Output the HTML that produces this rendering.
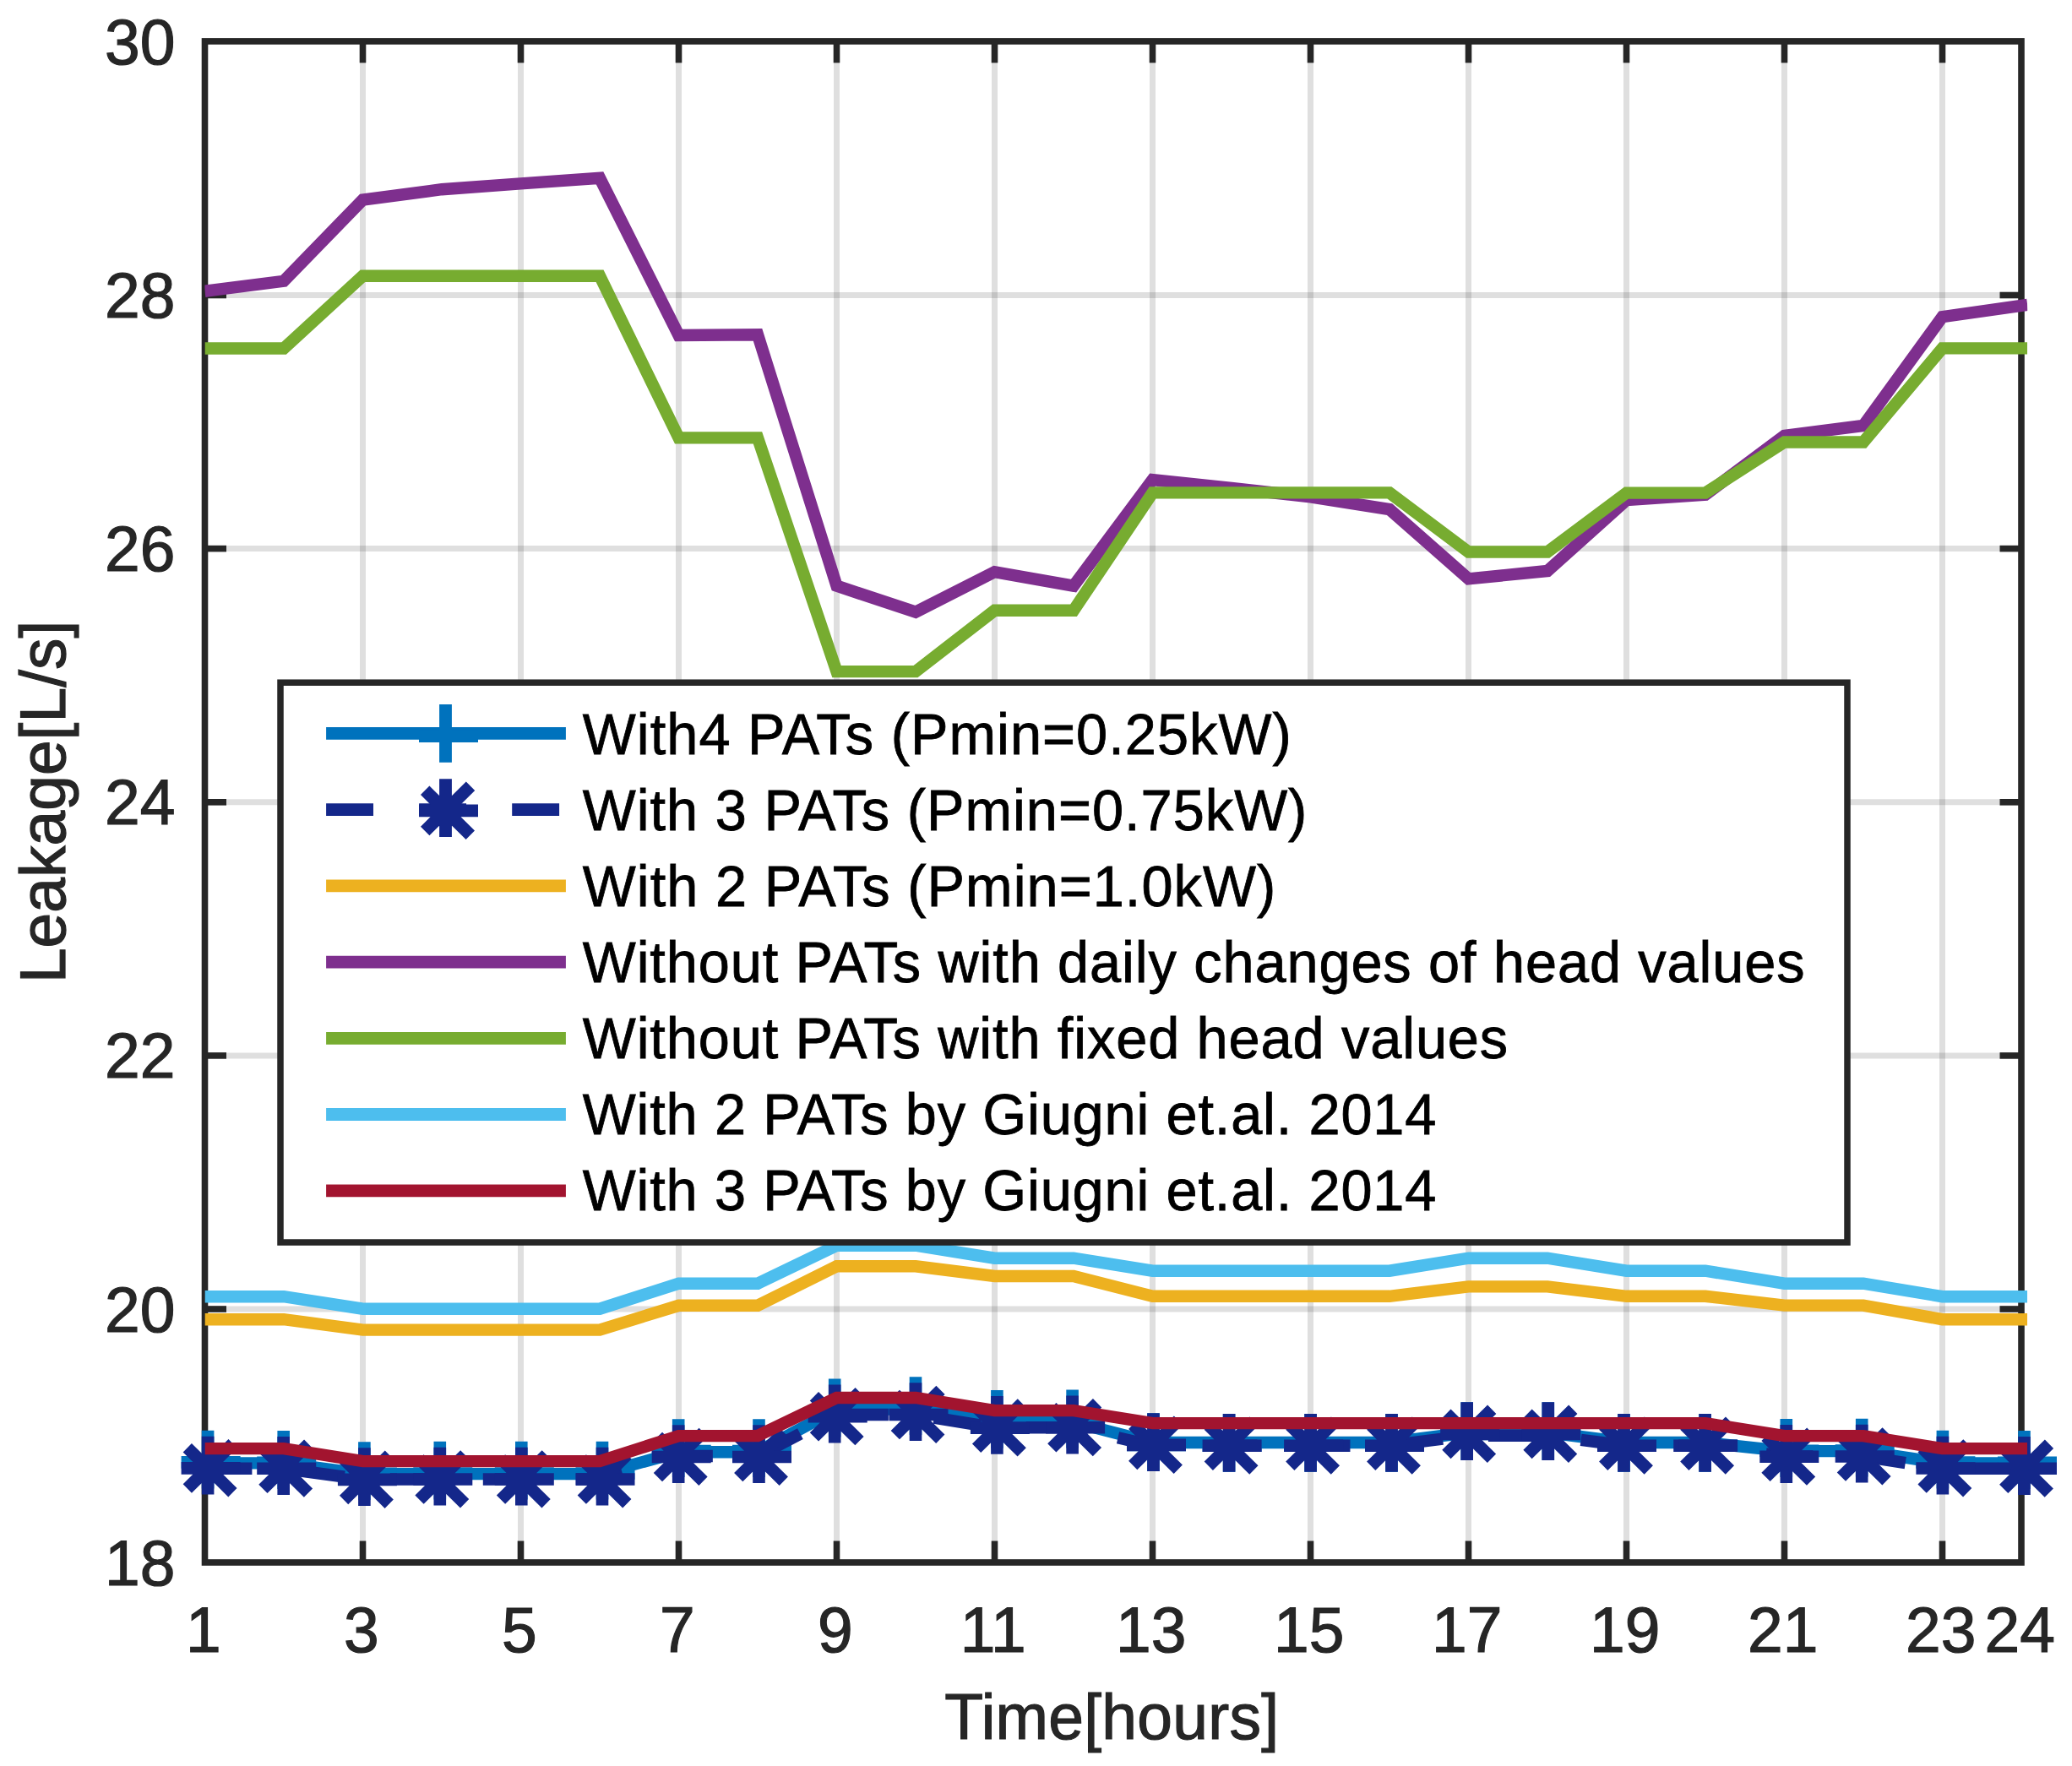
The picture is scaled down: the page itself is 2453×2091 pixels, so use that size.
<!DOCTYPE html>
<html lang="en"><head><meta charset="utf-8"><title>Leakage vs Time</title>
<style>html,body{margin:0;padding:0;background:#fff}body{width:2453px;height:2091px;overflow:hidden}svg{display:block}text{font-family:"Liberation Sans",sans-serif}</style>
</head><body>
<svg width="2453" height="2091" viewBox="0 0 2453 2091">
<rect width="2453" height="2091" fill="#fff"/>
<defs>
<clipPath id="cp"><rect x="242.4" y="0" width="2157.8" height="2091"/></clipPath>
</defs>
<g stroke="#262626" stroke-opacity="0.15" stroke-width="7.0" fill="none">
<path d="M429.5 48.9V1850.0"/>
<path d="M616.5 48.9V1850.0"/>
<path d="M803.5 48.9V1850.0"/>
<path d="M990.5 48.9V1850.0"/>
<path d="M1177.5 48.9V1850.0"/>
<path d="M1364.5 48.9V1850.0"/>
<path d="M1551.5 48.9V1850.0"/>
<path d="M1738.5 48.9V1850.0"/>
<path d="M1925.5 48.9V1850.0"/>
<path d="M2112.5 48.9V1850.0"/>
<path d="M2299.5 48.9V1850.0"/>
<path d="M242.5 1550.0H2393.0"/>
<path d="M242.5 1249.9H2393.0"/>
<path d="M242.5 949.8H2393.0"/>
<path d="M242.5 649.6H2393.0"/>
<path d="M242.5 349.5H2393.0"/>
</g>
<g stroke="#262626" stroke-width="7.6" fill="none" stroke-linecap="butt">
<rect x="242.5" y="48.9" width="2150.5" height="1801.1"/>
<path d="M429.5 1850.0v-25.5"/>
<path d="M429.5 48.9v25.5"/>
<path d="M616.5 1850.0v-25.5"/>
<path d="M616.5 48.9v25.5"/>
<path d="M803.5 1850.0v-25.5"/>
<path d="M803.5 48.9v25.5"/>
<path d="M990.5 1850.0v-25.5"/>
<path d="M990.5 48.9v25.5"/>
<path d="M1177.5 1850.0v-25.5"/>
<path d="M1177.5 48.9v25.5"/>
<path d="M1364.5 1850.0v-25.5"/>
<path d="M1364.5 48.9v25.5"/>
<path d="M1551.5 1850.0v-25.5"/>
<path d="M1551.5 48.9v25.5"/>
<path d="M1738.5 1850.0v-25.5"/>
<path d="M1738.5 48.9v25.5"/>
<path d="M1925.5 1850.0v-25.5"/>
<path d="M1925.5 48.9v25.5"/>
<path d="M2112.5 1850.0v-25.5"/>
<path d="M2112.5 48.9v25.5"/>
<path d="M2299.5 1850.0v-25.5"/>
<path d="M2299.5 48.9v25.5"/>
<path d="M242.5 1550.0h25.5"/>
<path d="M2393.0 1550.0h-25.5"/>
<path d="M242.5 1249.9h25.5"/>
<path d="M2393.0 1249.9h-25.5"/>
<path d="M242.5 949.8h25.5"/>
<path d="M2393.0 949.8h-25.5"/>
<path d="M242.5 649.6h25.5"/>
<path d="M2393.0 649.6h-25.5"/>
<path d="M242.5 349.5h25.5"/>
<path d="M2393.0 349.5h-25.5"/>
</g>
<g fill="#262626" stroke="#262626" stroke-width="1.2" font-size="75px">
<text transform="translate(240.8 1955.6) scale(1 1.015)" text-anchor="middle">1</text>
<text transform="translate(427.8 1955.6) scale(1 1.015)" text-anchor="middle">3</text>
<text transform="translate(614.8 1955.6) scale(1 1.015)" text-anchor="middle">5</text>
<text transform="translate(801.8 1955.6) scale(1 1.015)" text-anchor="middle">7</text>
<text transform="translate(988.8 1955.6) scale(1 1.015)" text-anchor="middle">9</text>
<text transform="translate(1175.8 1955.6) scale(1 1.015)" text-anchor="middle">11</text>
<text transform="translate(1362.8 1955.6) scale(1 1.015)" text-anchor="middle">13</text>
<text transform="translate(1549.8 1955.6) scale(1 1.015)" text-anchor="middle">15</text>
<text transform="translate(1736.8 1955.6) scale(1 1.015)" text-anchor="middle">17</text>
<text transform="translate(1923.8 1955.6) scale(1 1.015)" text-anchor="middle">19</text>
<text transform="translate(2110.8 1955.6) scale(1 1.015)" text-anchor="middle">21</text>
<text transform="translate(2297.8 1955.6) scale(1 1.015)" text-anchor="middle">23</text>
<text transform="translate(2391.3 1955.6) scale(1 1.015)" text-anchor="middle">24</text>
<text transform="translate(207.5 1876.6) scale(1 1.015)" text-anchor="end">18</text>
<text transform="translate(207.5 1576.5) scale(1 1.015)" text-anchor="end">20</text>
<text transform="translate(207.5 1276.4) scale(1 1.015)" text-anchor="end">22</text>
<text transform="translate(207.5 976.2) scale(1 1.015)" text-anchor="end">24</text>
<text transform="translate(207.5 676.1) scale(1 1.015)" text-anchor="end">26</text>
<text transform="translate(207.5 376.0) scale(1 1.015)" text-anchor="end">28</text>
<text transform="translate(207.5 75.9) scale(1 1.015)" text-anchor="end">30</text>
<text transform="translate(1316.2 2058.7) scale(1 1.015)" text-anchor="middle" textLength="395.7" lengthAdjust="spacing">Time[hours]</text>
<text transform="translate(76.5 949.4) rotate(-90) scale(1 1.015)" text-anchor="middle">Leakage[L/s]</text>
</g>
<g fill="none" stroke-width="14.4" stroke-linejoin="miter" stroke-linecap="butt">
<g clip-path="url(#cp)"><path d="M242.5 1732.4 L336.0 1732.4 L429.5 1745.1 L523.0 1745.1 L616.5 1745.1 L710.0 1745.1 L803.5 1719.2 L897.0 1719.2 L990.5 1668.6 L1084.0 1668.6 L1177.5 1683.9 L1271.0 1683.9 L1364.5 1708.0 L1458.0 1708.0 L1551.5 1708.0 L1645.0 1708.0 L1738.5 1696.0 L1832.0 1696.0 L1925.5 1708.0 L2019.0 1708.0 L2112.5 1718.1 L2206.0 1718.1 L2299.5 1732.4 L2393.0 1732.4 L2400.2 1732.4" stroke="#0072BD"/></g>
<g id="plus-markers">
<path d="M246.1 1693.7V1762.5M214.6 1731.4H284.6" stroke="#0072BD" stroke-width="14.6" stroke-dasharray="none"/>
<path d="M335.7 1694.1V1762.9M304.2 1731.8H374.2" stroke="#0072BD" stroke-width="14.6" stroke-dasharray="none"/>
<path d="M431.4 1707.2V1776.0M399.9 1744.9H469.9" stroke="#0072BD" stroke-width="14.6" stroke-dasharray="none"/>
<path d="M520.8 1706.8V1775.6M489.3 1744.5H559.3" stroke="#0072BD" stroke-width="14.6" stroke-dasharray="none"/>
<path d="M617.3 1706.8V1775.6M585.8 1744.5H655.8" stroke="#0072BD" stroke-width="14.6" stroke-dasharray="none"/>
<path d="M713.0 1706.8V1775.6M681.5 1744.5H751.5" stroke="#0072BD" stroke-width="14.6" stroke-dasharray="none"/>
<path d="M803.2 1680.3V1749.1M771.7 1718.0H841.7" stroke="#0072BD" stroke-width="14.6" stroke-dasharray="none"/>
<path d="M898.5 1680.3V1749.1M867.0 1718.0H937.0" stroke="#0072BD" stroke-width="14.6" stroke-dasharray="none"/>
<path d="M988.2 1632.6V1701.4M956.7 1670.3H1026.7" stroke="#0072BD" stroke-width="14.6" stroke-dasharray="none"/>
<path d="M1084.0 1630.3V1699.1M1052.5 1668.0H1122.5" stroke="#0072BD" stroke-width="14.6" stroke-dasharray="none"/>
<path d="M1180.4 1645.9V1714.7M1148.9 1683.6H1218.9" stroke="#0072BD" stroke-width="14.6" stroke-dasharray="none"/>
<path d="M1269.6 1645.6V1714.4M1238.1 1683.3H1308.1" stroke="#0072BD" stroke-width="14.6" stroke-dasharray="none"/>
<path d="M1365.5 1673.2V1742.0M1334.0 1710.9H1404.0" stroke="#0072BD" stroke-width="14.6" stroke-dasharray="none"/>
<path d="M1455.1 1674.0V1742.8M1423.6 1711.7H1493.6" stroke="#0072BD" stroke-width="14.6" stroke-dasharray="none"/>
<path d="M1551.6 1674.0V1742.8M1520.1 1711.7H1590.1" stroke="#0072BD" stroke-width="14.6" stroke-dasharray="none"/>
<path d="M1647.5 1674.0V1742.8M1616.0 1711.7H1686.0" stroke="#0072BD" stroke-width="14.6" stroke-dasharray="none"/>
<path d="M1736.7 1660.2V1729.0M1705.2 1697.9H1775.2" stroke="#0072BD" stroke-width="14.6" stroke-dasharray="none"/>
<path d="M1832.8 1660.2V1729.0M1801.3 1697.9H1871.3" stroke="#0072BD" stroke-width="14.6" stroke-dasharray="none"/>
<path d="M1922.5 1674.0V1742.8M1891.0 1711.7H1961.0" stroke="#0072BD" stroke-width="14.6" stroke-dasharray="none"/>
<path d="M2018.6 1674.0V1742.8M1987.1 1711.7H2057.1" stroke="#0072BD" stroke-width="14.6" stroke-dasharray="none"/>
<path d="M2114.8 1680.1V1748.9M2083.3 1717.8H2153.3" stroke="#0072BD" stroke-width="14.6" stroke-dasharray="none"/>
<path d="M2204.2 1679.8V1748.6M2172.7 1717.5H2242.7" stroke="#0072BD" stroke-width="14.6" stroke-dasharray="none"/>
<path d="M2299.9 1693.8V1762.6M2268.4 1731.5H2338.4" stroke="#0072BD" stroke-width="14.6" stroke-dasharray="none"/>
<path d="M2396.5 1694.1V1762.9M2365.0 1731.8H2435.0" stroke="#0072BD" stroke-width="14.6" stroke-dasharray="none"/>
</g>
<g clip-path="url(#cp)"><path d="M242.5 1738.8 L336.0 1738.8 L429.5 1751.5 L523.0 1751.5 L616.5 1751.5 L710.0 1751.5 L803.5 1724.0 L897.0 1724.0 L990.5 1675.0 L1084.0 1675.0 L1177.5 1690.3 L1271.0 1690.3 L1364.5 1711.7 L1458.0 1711.7 L1551.5 1711.7 L1645.0 1711.7 L1738.5 1699.7 L1832.0 1699.7 L1925.5 1711.7 L2019.0 1711.7 L2112.5 1724.5 L2206.0 1724.5 L2299.5 1738.8 L2393.0 1738.8 L2400.2 1738.8" stroke="#14278A" stroke-dasharray="55.9 54.15"/></g>
<g id="star-markers">
<path d="M246.1 1700.7V1769.5M214.6 1738.4H284.6M221.8 1762.5L275.6 1709.2M221.8 1714.2L275.4 1767.2" stroke="#14278A" stroke-width="14.6" stroke-dasharray="none"/>
<path d="M335.7 1701.1V1769.9M304.2 1738.8H374.2M311.4 1762.9L365.2 1709.7M311.4 1714.7L365.0 1767.6" stroke="#14278A" stroke-width="14.6" stroke-dasharray="none"/>
<path d="M431.4 1714.2V1783.0M399.9 1751.9H469.9M407.1 1776.0L460.9 1722.8M407.1 1727.8L460.7 1780.7" stroke="#14278A" stroke-width="14.6" stroke-dasharray="none"/>
<path d="M520.8 1713.8V1782.6M489.3 1751.5H559.3M496.5 1775.6L550.3 1722.4M496.5 1727.4L550.1 1780.3" stroke="#14278A" stroke-width="14.6" stroke-dasharray="none"/>
<path d="M617.3 1713.8V1782.6M585.8 1751.5H655.8M593.0 1775.6L646.8 1722.4M593.0 1727.4L646.6 1780.3" stroke="#14278A" stroke-width="14.6" stroke-dasharray="none"/>
<path d="M713.0 1713.8V1782.6M681.5 1751.5H751.5M688.8 1775.6L742.5 1722.4M688.8 1727.4L742.3 1780.3" stroke="#14278A" stroke-width="14.6" stroke-dasharray="none"/>
<path d="M803.2 1687.3V1756.1M771.7 1725.0H841.7M778.9 1749.1L832.7 1695.9M778.9 1700.9L832.5 1753.8" stroke="#14278A" stroke-width="14.6" stroke-dasharray="none"/>
<path d="M898.5 1687.3V1756.1M867.0 1725.0H937.0M874.2 1749.1L928.0 1695.9M874.2 1700.9L927.8 1753.8" stroke="#14278A" stroke-width="14.6" stroke-dasharray="none"/>
<path d="M988.2 1639.6V1708.4M956.7 1677.3H1026.7M963.9 1701.4L1017.7 1648.2M963.9 1653.2L1017.5 1706.1" stroke="#14278A" stroke-width="14.6" stroke-dasharray="none"/>
<path d="M1084.0 1637.3V1706.1M1052.5 1675.0H1122.5M1059.8 1699.1L1113.5 1645.9M1059.8 1650.9L1113.3 1703.8" stroke="#14278A" stroke-width="14.6" stroke-dasharray="none"/>
<path d="M1180.4 1652.9V1721.7M1148.9 1690.6H1218.9M1156.1 1714.7L1209.9 1661.5M1156.1 1666.5L1209.7 1719.4" stroke="#14278A" stroke-width="14.6" stroke-dasharray="none"/>
<path d="M1269.6 1652.6V1721.4M1238.1 1690.3H1308.1M1245.3 1714.4L1299.1 1661.2M1245.3 1666.2L1298.9 1719.1" stroke="#14278A" stroke-width="14.6" stroke-dasharray="none"/>
<path d="M1365.5 1673.2V1742.0M1334.0 1710.9H1404.0M1341.2 1735.0L1395.0 1681.8M1341.2 1686.8L1394.8 1739.7" stroke="#14278A" stroke-width="14.6" stroke-dasharray="none"/>
<path d="M1455.1 1674.0V1742.8M1423.6 1711.7H1493.6M1430.8 1735.8L1484.6 1682.6M1430.8 1687.6L1484.4 1740.5" stroke="#14278A" stroke-width="14.6" stroke-dasharray="none"/>
<path d="M1551.6 1674.0V1742.8M1520.1 1711.7H1590.1M1527.3 1735.8L1581.1 1682.6M1527.3 1687.6L1580.9 1740.5" stroke="#14278A" stroke-width="14.6" stroke-dasharray="none"/>
<path d="M1647.5 1674.0V1742.8M1616.0 1711.7H1686.0M1623.2 1735.8L1677.0 1682.6M1623.2 1687.6L1676.8 1740.5" stroke="#14278A" stroke-width="14.6" stroke-dasharray="none"/>
<path d="M1736.7 1660.2V1729.0M1705.2 1697.9H1775.2M1712.4 1722.0L1766.2 1668.8M1712.4 1673.8L1766.0 1726.7" stroke="#14278A" stroke-width="14.6" stroke-dasharray="none"/>
<path d="M1832.8 1660.2V1729.0M1801.3 1697.9H1871.3M1808.5 1722.0L1862.3 1668.8M1808.5 1673.8L1862.1 1726.7" stroke="#14278A" stroke-width="14.6" stroke-dasharray="none"/>
<path d="M1922.5 1674.0V1742.8M1891.0 1711.7H1961.0M1898.2 1735.8L1952.0 1682.6M1898.2 1687.6L1951.8 1740.5" stroke="#14278A" stroke-width="14.6" stroke-dasharray="none"/>
<path d="M2018.6 1674.0V1742.8M1987.1 1711.7H2057.1M1994.3 1735.8L2048.1 1682.6M1994.3 1687.6L2047.9 1740.5" stroke="#14278A" stroke-width="14.6" stroke-dasharray="none"/>
<path d="M2114.8 1687.1V1755.9M2083.3 1724.8H2153.3M2090.5 1748.9L2144.3 1695.7M2090.5 1700.7L2144.1 1753.6" stroke="#14278A" stroke-width="14.6" stroke-dasharray="none"/>
<path d="M2204.2 1686.8V1755.6M2172.7 1724.5H2242.7M2179.9 1748.6L2233.7 1695.4M2179.9 1700.4L2233.5 1753.3" stroke="#14278A" stroke-width="14.6" stroke-dasharray="none"/>
<path d="M2299.9 1700.8V1769.6M2268.4 1738.5H2338.4M2275.6 1762.6L2329.4 1709.4M2275.6 1714.4L2329.2 1767.3" stroke="#14278A" stroke-width="14.6" stroke-dasharray="none"/>
<path d="M2396.5 1701.1V1769.9M2365.0 1738.8H2435.0M2372.2 1762.9L2426.0 1709.7M2372.2 1714.7L2425.8 1767.6" stroke="#14278A" stroke-width="14.6" stroke-dasharray="none"/>
</g>
<g clip-path="url(#cp)">
<path d="M242.5 1562.2 L336.0 1562.2 L429.5 1574.6 L523.0 1574.6 L616.5 1574.6 L710.0 1574.6 L803.5 1545.8 L897.0 1545.8 L990.5 1499.3 L1084.0 1499.3 L1177.5 1511.0 L1271.0 1511.0 L1364.5 1534.8 L1458.0 1534.8 L1551.5 1534.8 L1645.0 1534.8 L1738.5 1523.4 L1832.0 1523.4 L1925.5 1534.8 L2019.0 1534.8 L2112.5 1545.6 L2206.0 1545.6 L2299.5 1562.2 L2393.0 1562.2 L2400.2 1562.2" stroke="#EDB120"/>
<path d="M242.5 344.8 L336.0 332.8 L429.5 236.5 L523.0 224.2 L616.5 217.4 L710.0 210.7 L803.5 397.0 L897.0 396.3 L990.5 693.7 L1084.0 724.7 L1177.5 677.2 L1271.0 693.7 L1364.5 568.0 L1458.0 578.0 L1551.5 588.3 L1645.0 603.1 L1738.5 685.3 L1832.0 676.0 L1925.5 592.1 L2019.0 585.6 L2112.5 515.8 L2206.0 503.9 L2299.5 375.1 L2393.0 361.8 L2400.2 360.8" stroke="#7E2F8E"/>
<path d="M242.5 412.5 L336.0 412.5 L429.5 326.7 L523.0 326.7 L616.5 326.7 L710.0 326.7 L803.5 518.4 L897.0 518.4 L990.5 795.1 L1084.0 795.1 L1177.5 722.7 L1271.0 722.7 L1364.5 583.4 L1458.0 583.4 L1551.5 583.4 L1645.0 583.4 L1738.5 653.5 L1832.0 653.5 L1925.5 583.6 L2019.0 583.6 L2112.5 523.5 L2206.0 523.5 L2299.5 412.4 L2393.0 412.4 L2400.2 412.4" stroke="#77AC30"/>
<path d="M242.5 1535.2 L336.0 1535.2 L429.5 1549.7 L523.0 1549.7 L616.5 1549.7 L710.0 1549.7 L803.5 1519.7 L897.0 1519.7 L990.5 1474.7 L1084.0 1474.7 L1177.5 1489.7 L1271.0 1489.7 L1364.5 1504.7 L1458.0 1504.7 L1551.5 1504.7 L1645.0 1504.7 L1738.5 1489.7 L1832.0 1489.7 L1925.5 1504.7 L2019.0 1504.7 L2112.5 1519.7 L2206.0 1519.7 L2299.5 1535.2 L2393.0 1535.2 L2400.2 1535.2" stroke="#4DBEEE"/>
<path d="M242.5 1715.1 L336.0 1715.1 L429.5 1730.1 L523.0 1730.1 L616.5 1730.1 L710.0 1730.1 L803.5 1700.1 L897.0 1700.1 L990.5 1655.0 L1084.0 1655.0 L1177.5 1670.1 L1271.0 1670.1 L1364.5 1685.1 L1458.0 1685.1 L1551.5 1685.1 L1645.0 1685.1 L1738.5 1685.1 L1832.0 1685.1 L1925.5 1685.1 L2019.0 1685.1 L2112.5 1700.1 L2206.0 1700.1 L2299.5 1715.1 L2393.0 1715.1 L2400.2 1715.1" stroke="#A2142F"/>
</g>
</g>
<rect x="332" y="808.2" width="1855" height="662.8" fill="#fff" stroke="#262626" stroke-width="7.5"/>
<g fill="none" stroke-width="14.8">
<path d="M386.1 868.4H669.9" stroke="#0072BD"/>
<path d="M527.5 834.0V902.8M496.0 871.7H566.0" stroke="#0072BD" stroke-width="14.8" stroke-dasharray="none"/>
<path d="M386.1 958.6H669.9" stroke="#14278A" stroke-dasharray="55.9 54.15"/>
<path d="M527.5 922.2V991.0M496.0 959.9H566.0M503.2 984.0L557.0 930.8M503.2 935.8L556.8 988.7" stroke="#14278A" stroke-width="14.8" stroke-dasharray="none"/>
<path d="M386.1 1048.9H669.9" stroke="#EDB120"/>
<path d="M386.1 1139.1H669.9" stroke="#7E2F8E"/>
<path d="M386.1 1229.3H669.9" stroke="#77AC30"/>
<path d="M386.1 1319.5H669.9" stroke="#4DBEEE"/>
<path d="M386.1 1409.8H669.9" stroke="#A2142F"/>
</g>
<g fill="#000" stroke="#000" stroke-width="0.8" font-size="66.7px">
<text transform="translate(689.8 892.6) scale(1 1.022)" text-anchor="start" textLength="838.9" lengthAdjust="spacing">With4 PATs (Pmin=0.25kW)</text>
<text transform="translate(689.8 982.7) scale(1 1.022)" text-anchor="start" textLength="857.5" lengthAdjust="spacing">With 3 PATs (Pmin=0.75kW)</text>
<text transform="translate(689.8 1072.7) scale(1 1.022)" text-anchor="start" textLength="820.4" lengthAdjust="spacing">With 2 PATs (Pmin=1.0kW)</text>
<text transform="translate(689.8 1162.8) scale(1 1.022)" text-anchor="start" textLength="1446.8" lengthAdjust="spacing">Without PATs with daily changes of head values</text>
<text transform="translate(689.8 1252.9) scale(1 1.022)" text-anchor="start" textLength="1095.4" lengthAdjust="spacing">Without PATs with fixed head values</text>
<text transform="translate(689.8 1343.0) scale(1 1.022)" text-anchor="start" textLength="1010.6" lengthAdjust="spacing">With 2 PATs by Giugni et.al. 2014</text>
<text transform="translate(689.8 1433.0) scale(1 1.022)" text-anchor="start" textLength="1010.6" lengthAdjust="spacing">With 3 PATs by Giugni et.al. 2014</text>
</g>
</svg></body></html>
